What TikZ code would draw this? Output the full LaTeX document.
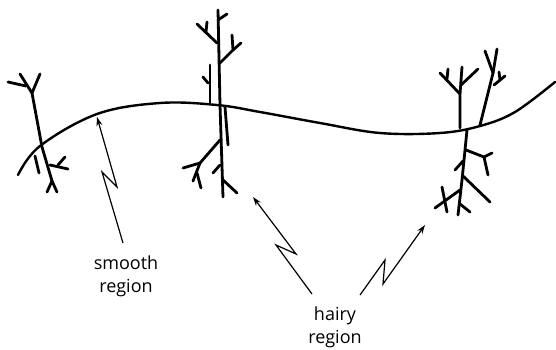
\documentclass[tikz,border=0pt]{standalone}
\usepackage{fontspec}
\setmainfont{Open Sans}
\usetikzlibrary{arrows.meta}
\begin{document}
\begin{tikzpicture}[x=1pt,y=-1pt,
  hair/.style={line width=2.8pt,line cap=round,line join=round},
  surface/.style={line width=2.4pt,line cap=round},
  pointer/.style={line width=1.2pt,line join=miter,-{Stealth[length=9pt,width=6pt]}},
  lbl/.style={font=\fontsize{18}{23}\selectfont,align=center,inner sep=0pt}]
\useasboundingbox (0,0) rectangle (556,349);
% the surface curve
\draw[surface] plot[smooth,tension=0.6] coordinates {(18,175) (40,146) (97,114) (160,103) (217,105) (260,112) (320,123) (380,133) (440,133) (480,126) (515,112) (555,82)};
% left hair
\draw[hair] (32,93) -- (42,147) -- (52,181);
\draw[hair] (32,93) -- (20,74);
\draw[hair] (32,93) -- (40,74);
\draw[hair] (8,82) -- (26,86);
\draw[hair] (35,156) -- (39,173);
\draw[hair] (50,165) -- (68,169);
\draw[hair] (58,165) -- (65,157);
\draw[hair] (52,181) -- (47,192);
\draw[hair] (52,181) -- (57,192);
% middle hair
\draw[hair] (218,10) -- (220,105) -- (223,197);
\draw[hair] (218,20) -- (227,14);
\draw[hair] (217,43) -- (197,24);
\draw[hair] (206,32) -- (207,22);
\draw[hair] (220,63) -- (233,50) -- (232,35);
\draw[hair] (233,50) -- (241,43);
\draw[hair] (210,65) -- (210,104);
\draw[hair] (203,77) -- (208,83);
\draw[hair] (225,107) -- (228,145);
\draw[hair] (220,140) -- (200,163) -- (183,168);
\draw[hair] (200,163) -- (193,181);
\draw[hair] (197,173) -- (201,188);
\draw[hair] (213,173) -- (220,165);
\draw[hair] (223,180) -- (237,193);
% right hair, above
\draw[hair] (460,128) -- (460,94) -- (462,67);
\draw[hair] (460,94) -- (440,73);
\draw[hair] (447,79) -- (448,69);
\draw[hair] (461,85) -- (478,69);
\draw[hair] (480,125) -- (493,73) -- (485,51);
\draw[hair] (493,73) -- (497,49);
\draw[hair] (494,85) -- (505,76);
\draw[hair] (500,80) -- (499,72);
% right hair, below
\draw[hair] (467,130) -- (465,150) -- (462,180) -- (458,215);
\draw[hair] (466,150) -- (484,157) -- (492,153);
\draw[hair] (484,157) -- (488,175);
\draw[hair] (455,170) -- (463,161);
\draw[hair] (463,176) -- (490,202);
\draw[hair] (460,190) -- (435,208);
\draw[hair] (442,187) -- (447,212);
\draw[hair] (460,204) -- (470,212);
% labels
\node[lbl] (smooth) at (126,276) {smooth\\region};
\node[lbl] (hairy) at (335,327) {hairy\\region};
% pointers
\coordinate (s0) at (123,243);
\coordinate (s1) at (102,172);
\coordinate (s2) at (117,187);
\coordinate (s3) at (97,117);
\draw[pointer] (s0) -- (s1) -- (s2) -- (s3);
\coordinate (h0) at (312,294);
\coordinate (h1) at (276,245);
\coordinate (h2) at (296,254);
\coordinate (h3) at (253,197);
\draw[pointer] (h0) -- (h1) -- (h2) -- (h3);
\coordinate (k0) at (360,295);
\coordinate (k1) at (385,260);
\coordinate (k2) at (383,284);
\coordinate (k3) at (425,225);
\draw[pointer] (k0) -- (k1) -- (k2) -- (k3);
\end{tikzpicture}
\end{document}
